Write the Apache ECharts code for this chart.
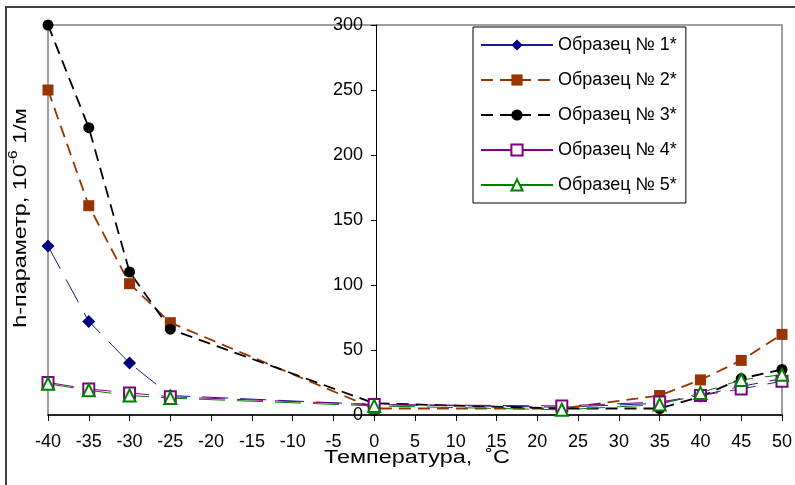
<!DOCTYPE html>
<html>
<head>
<meta charset="utf-8">
<script src="https://cdn.jsdelivr.net/npm/echarts@6/dist/echarts.min.js"></script>
<style>
  html, body { margin: 0; padding: 0; background: #fff; }
  #chart { width: 795px; height: 485px; }
</style>
</head>
<body>
<div id="chart"></div>
<script>
// Measurement temperatures, °C
const temperatures = [-40, -35, -30, -25, 0, 23, 35, 40, 45, 50];

// h-parameter, 10^-6 1/m, per sample
const sample1 = [130, 72, 40, 15, 8, 6, 9, 15, 22, 28];
const sample2 = [250, 161, 101, 71, 5, 5, 15, 27, 42, 62];
const sample3 = [300, 221, 110, 66, 9, 5, 5, 14, 28, 35];
const sample4 = [25, 20, 17, 14, 8, 7, 10, 15, 20, 26];
const sample5 = [24, 19, 15, 13, 7, 4, 8, 17, 27, 31];

const seriesNames = ['Образец № 1*', 'Образец № 2*', 'Образец № 3*', 'Образец № 4*', 'Образец № 5*'];

const xTitle = 'Температура,  ˚C';
const yTitleMain = 'h-параметр, 10';
const yTitleSup = '-6';
const yTitleUnit = ' 1/м';

const X_MIN = -40, X_MAX = 50;
const GRID = { left: 48, right: 9, top: 25, bottom: 70 };
const W = 795;

const pairs = vals => temperatures.map((t, i) => [t, vals[i]]);

const font = "'Liberation Sans', Arial, sans-serif";
const narrowFont = "'Liberation Sans Narrow', 'Liberation Sans', Arial, sans-serif";

const thinDash = [26, 12];
const thickDash = [12, 7];

// the value axis sits on x = 0 of the temperature axis
const gridWidth = W - GRID.left - GRID.right;
const yAxisShift = -(0 - X_MIN) / (X_MAX - X_MIN) * gridWidth;

// measure text pieces of the vertical title so the exponent can be placed after the base
const ctx = document.createElement('canvas').getContext('2d');
function textWidth(str, size) {
  ctx.font = size + 'px ' + font;
  return ctx.measureText(str).width;
}
const mainSize = 18, supSize = 12;
const wMain = textWidth(yTitleMain, mainSize);
const wSup = textWidth(yTitleSup, supSize);
const wUnit = textWidth(yTitleUnit, mainSize);
const wTotal = wMain + wSup + wUnit;
const x0 = -wTotal / 2;

const chart = echarts.init(document.getElementById('chart'), null, { renderer: 'canvas' });

chart.setOption({
  animation: false,
  backgroundColor: '#ffffff',
  grid: {
    left: GRID.left, right: GRID.right, top: GRID.top, bottom: GRID.bottom,
    show: true, borderColor: '#808080', borderWidth: 1.5, backgroundColor: 'transparent'
  },
  xAxis: {
    type: 'value',
    min: X_MIN, max: X_MAX, interval: 5,
    axisLine: { onZero: false, lineStyle: { color: '#000', width: 1.5 } },
    axisTick: { show: true, inside: false, length: 6, lineStyle: { color: '#000', width: 1 } },
    axisLabel: { color: '#000', fontSize: 18, fontFamily: narrowFont, margin: 18 },
    splitLine: { show: false }
  },
  yAxis: {
    type: 'value',
    min: 0, max: 300, interval: 50,
    offset: yAxisShift,
    axisLine: { show: true, onZero: false, lineStyle: { color: '#000', width: 1 } },
    axisTick: { show: true, inside: false, length: 5, lineStyle: { color: '#000' } },
    axisLabel: { color: '#000', fontSize: 18, fontFamily: font, margin: 13 },
    splitLine: { show: false }
  },
  legend: {
    orient: 'vertical',
    left: 473, top: 27,
    padding: [7, 9, 7, 7],
    itemWidth: 72, itemHeight: 14, itemGap: 13,
    borderColor: '#000', borderWidth: 1,
    backgroundColor: '#fff',
    textStyle: { color: '#000', fontSize: 18, fontFamily: font, lineHeight: 22 },
    data: [
      { name: seriesNames[0], lineStyle: { type: 'solid' } },
      { name: seriesNames[1] },
      { name: seriesNames[2] },
      { name: seriesNames[3], lineStyle: { type: 'solid' } },
      { name: seriesNames[4], lineStyle: { type: 'solid' } }
    ]
  },
  series: [
    {
      name: seriesNames[0], type: 'line', data: pairs(sample1),
      symbol: 'diamond', symbolSize: 13,
      itemStyle: { color: '#000080' },
      lineStyle: { color: '#1a1a99', width: 1, type: thinDash }
    },
    {
      name: seriesNames[1], type: 'line', data: pairs(sample2),
      symbol: 'rect', symbolSize: 11,
      itemStyle: { color: '#993300' },
      lineStyle: { color: '#993300', width: 1.8, type: thickDash }
    },
    {
      name: seriesNames[2], type: 'line', data: pairs(sample3),
      symbol: 'circle', symbolSize: 11,
      itemStyle: { color: '#000000' },
      lineStyle: { color: '#000000', width: 1.8, type: thickDash }
    },
    {
      name: seriesNames[3], type: 'line', data: pairs(sample4),
      symbol: 'rect', symbolSize: 11,
      itemStyle: { color: '#ffffff', borderColor: '#800080', borderWidth: 2 },
      lineStyle: { color: '#800080', width: 1, type: thinDash }
    },
    {
      name: seriesNames[4], type: 'line', data: pairs(sample5),
      symbol: 'triangle', symbolSize: 12,
      itemStyle: { color: '#ffffff', borderColor: '#008000', borderWidth: 2 },
      lineStyle: { color: '#008000', width: 1, type: thinDash }
    }
  ],
  graphic: [
    {
      type: 'rect', silent: true, z: -1,
      shape: { x: 6, y: 7, width: 900, height: 600 },
      style: { fill: 'none', stroke: '#404040', lineWidth: 2 }
    },
    {
      type: 'text', silent: true,
      x: 417, y: 458, scaleX: 1.3,
      style: {
        text: xTitle, fill: '#000', font: '18px ' + font,
        align: 'center', verticalAlign: 'middle'
      }
    },
    {
      type: 'group', silent: true,
      x: 21, y: 218, rotation: Math.PI / 2, scaleX: 1.3,
      children: [
        {
          type: 'text', x: x0, y: 0,
          style: { text: yTitleMain, fill: '#000', font: mainSize + 'px ' + font, align: 'left', verticalAlign: 'middle' }
        },
        {
          type: 'text', x: x0 + wMain, y: -7,
          style: { text: yTitleSup, fill: '#000', font: supSize + 'px ' + font, align: 'left', verticalAlign: 'middle' }
        },
        {
          type: 'text', x: x0 + wMain + wSup, y: 0,
          style: { text: yTitleUnit, fill: '#000', font: mainSize + 'px ' + font, align: 'left', verticalAlign: 'middle' }
        }
      ]
    }
  ]
});
</script>
</body>
</html>
